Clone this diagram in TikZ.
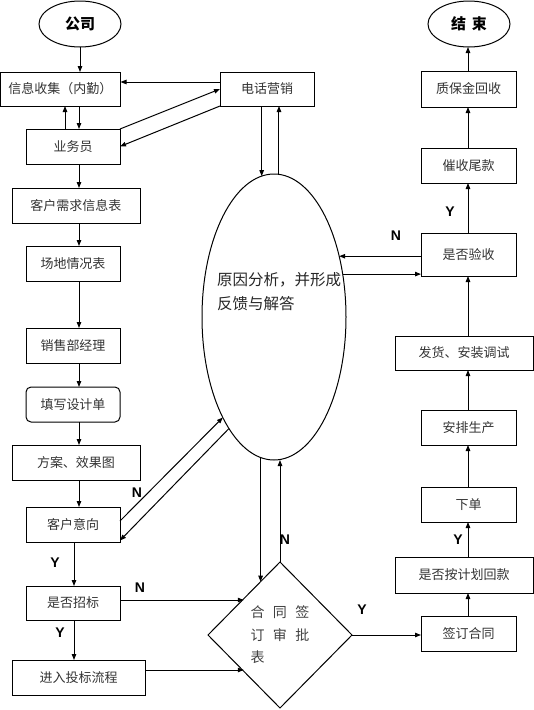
\documentclass[tikz,border=0pt]{standalone}
\usepackage{fontspec}
\setmainfont{Liberation Serif}
\newfontfamily\cjk{Noto Sans CJK SC}
\newfontfamily\labfont{Liberation Sans}
\usetikzlibrary{shapes.geometric,arrows.meta}
\begin{document}
\begin{tikzpicture}[x=1pt,y=-1pt,
  every node/.style={inner sep=0pt, outer sep=0pt},
  box/.style={draw, line width=1pt, font=\cjk\fontsize{13}{15}\selectfont, text=black!80, minimum height=35pt},
  sbox/.style={box, minimum width=94pt},
  lbox/.style={box, minimum width=128pt},
  rbox/.style={box, minimum width=95pt},
  arr/.style={line width=1pt, -{Triangle[length=6pt,width=4.5pt]}},
  lab/.style={font=\labfont\bfseries\fontsize{14}{14}\selectfont},
  term/.style={ellipse, draw, line width=1pt, minimum width=82pt, minimum height=46pt, font=\cjk\bfseries\fontsize{15}{15}\selectfont}
]
\useasboundingbox (0,0) rectangle (534,710);

% terminals
\node[term] (gs) at (80,24) {公司};
\node[term] (js) at (469,24) {结\hspace{0.4em}束};

% left column
\node[box, minimum width=120pt, minimum height=34pt] (info) at (60.5,89) {信息收集（内勤）};
\node[sbox] (yw) at (73,146.5) {业务员};
\node[lbox] (kh) at (76,205.5) {客户需求信息表};
\node[sbox] (cd) at (73,263.5) {场地情况表};
\node[sbox] (xs) at (73,345.5) {销售部经理};
\node[sbox, rounded corners=5pt] (tx) at (73,404.5) {填写设计单};
\node[lbox] (fa) at (76,462.5) {方案、效果图};
\node[sbox] (yx) at (73,524.5) {客户意向};
\node[sbox, minimum height=34pt] (zb) at (73,603) {是否招标};
\node[box, minimum width=133pt] (tb) at (78.5,677.5) {进入投标流程};

% middle
\node[sbox, minimum height=34pt] (dh) at (267,89) {电话营销};
\node[ellipse, draw, line width=1pt, minimum width=144pt, minimum height=286pt] (big) at (274,317) {};
\node[font=\cjk\fontsize{15.5}{24}\selectfont, align=left, text=black!85, anchor=north west] (bigtxt) at (217,272) {原因分析，并形成\\反馈与解答};
\node[diamond, draw, line width=1pt, minimum width=144pt, minimum height=146pt, font=\cjk\fontsize{14}{22.5}\selectfont, text=black!75, align=left] (dia) at (280,635) {合\hspace{8.5pt}同\hspace{8.5pt}签\\订\hspace{8.5pt}审\hspace{8.5pt}批\\表};

% right column
\node[rbox, minimum height=36pt] (zbj) at (468.5,89) {质保金回收};
\node[rbox] (cs) at (468.5,165.5) {催收尾款};
\node[rbox, minimum height=43pt] (ys) at (468.5,254.5) {是否验收};
\node[box, minimum width=138pt, minimum height=34pt] (fh) at (464,353) {发货、安装调试};
\node[rbox] (ap) at (468.5,427.5) {安排生产};
\node[rbox] (xd) at (468.5,504.5) {下单};
\node[box, minimum width=138pt, minimum height=36pt] (hk) at (464,575) {是否按计划回款};
\node[rbox] (qd) at (468.5,633.5) {签订合同};

% helper columns
\coordinate (c79) at (79,0);
\coordinate (c74) at (74,0);
\coordinate (c65) at (65,0);
\coordinate (c468) at (468,0);

% left column connectors
\draw[arr] (gs.south) -- (gs.south |- info.north);
\draw[arr] (info.south -| c79) -- (yw.north -| c79);
\draw[arr] (yw.north -| c65) -- (info.south -| c65);
\draw[arr] ([yshift=7pt]dh.west) -- ([yshift=7pt]dh.west -| info.east);
\draw[arr] (yw.north east) -- (dh.west);
\draw[arr] (dh.south west) -- (yw.east);
\draw[arr] (yw.south -| c79) -- (kh.north -| c79);
\draw[arr] (kh.south -| c79) -- (cd.north -| c79);
\draw[arr] (cd.south -| c79) -- (xs.north -| c79);
\draw[arr] (xs.south -| c79) -- (tx.north -| c79);
\draw[arr] (tx.south -| c79) -- (fa.north -| c79);
\draw[arr] (fa.south -| c79) -- (yx.north -| c79);
\draw[arr] (yx.south -| c74) -- (zb.north -| c74);
\draw[arr] (zb.south -| c74) -- (tb.north -| c74);

% to / from ellipse
\draw[arr] (dh.south -| big.95.3) -- (big.95.3);
\draw[arr] (big.88.4) -- (dh.south -| big.88.4);
\draw[arr] ([yshift=3.5pt]yx.east) -- (big.243);
\draw[arr] (big.248) -- ([yshift=1.5pt]yx.south east);
\draw[arr] (ys.west |- big.43) -- (big.43);
\draw[arr] (big.32.7) -- (ys.west |- big.32.7);

% to / from diamond
\draw[arr] ([yshift=3pt]zb.east) -- ([yshift=3pt]zb.east -| dia.135);
\draw[arr] ([yshift=7.5pt]tb.east) -- ([yshift=7.5pt]tb.east -| dia.225);
\draw[arr] (dia.110.8 |- big.264.3) -- (dia.110.8);
\draw[arr] (dia.north) -- (dia.north |- big.south);
\draw[arr] (dia.east) -- (dia.east -| qd.west);

% right column connectors
\draw[arr] (qd.north -| c468) -- (hk.south -| c468);
\draw[arr] (hk.north -| c468) -- (xd.south -| c468);
\draw[arr] (xd.north -| c468) -- (ap.south -| c468);
\draw[arr] (ap.north -| c468) -- (fh.south -| c468);
\draw[arr] (fh.north -| c468) -- (ys.south -| c468);
\draw[arr] (ys.north -| c468) -- (cs.south -| c468);
\draw[arr] (cs.north -| c468) -- (zbj.south -| c468);
\draw[arr] (zbj.north -| c468) -- (js.south -| c468);

% labels
\node[lab] (n1) at (137,493) {N};
\node[lab] (n2) at (140,588) {N};
\node[lab] (y1) at (55,563) {Y};
\node[lab] (y2) at (60,633) {Y};
\node[lab] (n3) at (285,540) {N};
\node[lab] (y3) at (362,610) {Y};
\node[lab] (y4) at (458,540) {Y};
\node[lab] (n4) at (396,236) {N};
\node[lab] (y5) at (450,212) {Y};
\end{tikzpicture}
\end{document}
